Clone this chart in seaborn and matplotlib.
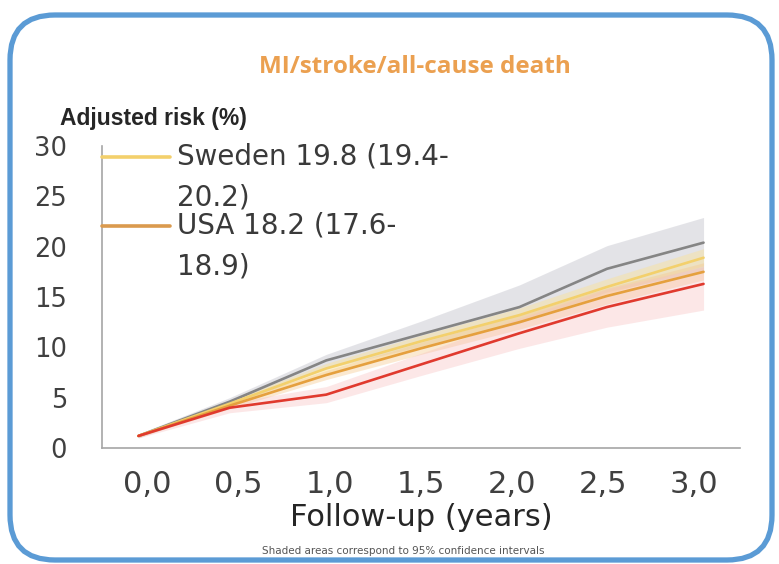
import numpy as np
import pandas as pd
import matplotlib
matplotlib.use("Agg")
import matplotlib.pyplot as plt
from matplotlib.patches import FancyBboxPatch
from matplotlib.lines import Line2D
from matplotlib.legend_handler import HandlerLine2D
import seaborn as sns

# ---------------- data ----------------
years = [-0.05, 0.45, 0.98, 1.5, 2.04, 2.52, 3.05]

gray_risk   = [1.2, 4.6, 8.7, 11.3, 14.0, 17.8, 20.4]
sweden_risk = [1.2, 4.4, 7.9, 10.6, 13.2, 16.0, 18.9]
usa_risk    = [1.2, 4.2, 7.25, 9.9, 12.5, 15.1, 17.5]
red_risk    = [1.2, 4.0, 5.3, 8.3, 11.4, 14.0, 16.3]

gray_lo   = [1.0, 4.2, 7.9, 10.1, 12.4, 15.5, 17.6]
gray_hi   = [1.4, 5.0, 9.3, 12.6, 16.2, 20.1, 22.9]
sweden_lo = [1.1, 4.1, 7.4, 10.0, 12.5, 15.3, 18.1]
sweden_hi = [1.3, 4.7, 8.4, 11.2, 13.9, 16.8, 19.8]
usa_lo    = [1.1, 3.9, 6.8, 9.3, 11.8, 14.3, 16.7]
usa_hi    = [1.3, 4.5, 7.7, 10.5, 13.2, 15.9, 18.4]
red_lo    = [1.0, 3.5, 4.5, 7.2, 9.9, 12.0, 13.7]
red_hi    = [1.4, 4.5, 6.1, 9.4, 12.9, 15.8, 18.0]

series_names = ["Other A", "Sweden", "USA", "Other B"]
legend_labels = ["Sweden 19.8 (19.4-\n20.2)", "USA 18.2 (17.6-\n18.9)"]

xtick_values = [0.0, 0.5, 1.0, 1.5, 2.0, 2.5, 3.0]
xtick_labels = ["0,0", "0,5", "1,0", "1,5", "2,0", "2,5", "3,0"]
ytick_values = [0, 5, 10, 15, 20, 25, 30]

# ---------------- styling ----------------
line_colors = {"Other A": "#858585", "Sweden": "#F3D06C", "USA": "#E5A03E", "Other B": "#E03A2E"}
band_colors = {"Other A": ("#C9C9D1", 0.5), "Sweden": ("#F8E2A0", 0.5),
               "USA": ("#F6C88E", 0.4), "Other B": ("#F7BCBC", 0.35)}

sns.set_style("white")
plt.rcParams["font.family"] = ["DejaVu Sans"]

fig = plt.figure(figsize=(7.79, 5.64), dpi=100)
fig.patch.set_facecolor("white")

# rounded blue frame
frame = FancyBboxPatch((0.10, 0.04), 7.62, 5.45,
                       boxstyle="round,pad=0,rounding_size=0.45",
                       transform=fig.dpi_scale_trans, fill=False,
                       edgecolor="#5B9BD5", linewidth=3.8, zorder=0)
fig.patches.append(frame)

ax = fig.add_axes([102 / 779, 1 - 448 / 564, (740 - 102) / 779, (448 - 146) / 564])
ax.set_facecolor("none")

bands = {"Other A": (gray_lo, gray_hi), "Sweden": (sweden_lo, sweden_hi),
         "USA": (usa_lo, usa_hi), "Other B": (red_lo, red_hi)}
for name in series_names:
    lo, hi = bands[name]
    c, a = band_colors[name]
    ax.fill_between(years, lo, hi, color=c, alpha=a, linewidth=0, zorder=1)

df = pd.DataFrame({
    "year": years * 4,
    "risk": gray_risk + sweden_risk + usa_risk + red_risk,
    "series": sum([[n] * len(years) for n in series_names], []),
})
sns.lineplot(data=df, x="year", y="risk", hue="series", hue_order=series_names,
             palette=line_colors, linewidth=1.9, legend=False, ax=ax, zorder=3)

ax.set_xlim(-0.25, 3.25)
ax.set_ylim(0, 30)
ax.set_xticks(xtick_values)
ax.set_xticklabels(xtick_labels)
ax.set_xticks(np.arange(-0.25, 3.26, 0.5), minor=True)
ax.set_yticks(ytick_values)

for s in ["top", "right"]:
    ax.spines[s].set_visible(False)
for s in ["left", "bottom"]:
    ax.spines[s].set_color("#A6A6A6")
    ax.spines[s].set_linewidth(1.2)

ax.tick_params(axis="x", which="major", length=0, pad=16, labelsize=22, labelcolor="#404040")
ax.tick_params(axis="x", which="minor", length=4, width=1, color="#A6A6A6", direction="out")
ax.tick_params(axis="y", which="major", length=7.2, width=1, color="#A6A6A6", direction="out",
               pad=18, labelsize=18.5, labelcolor="#404040")
ax.set_xlabel("Follow-up (years)", fontsize=22, color="#262626", labelpad=3)
ax.set_ylabel("")


class TopLineHandler(HandlerLine2D):
    def __init__(self, offset, **kw):
        super().__init__(**kw)
        self.offset = offset

    def create_artists(self, legend, orig_handle, xdescent, ydescent, width, height,
                       fontsize, trans):
        arts = super().create_artists(legend, orig_handle, xdescent, ydescent, width,
                                      height, fontsize, trans)
        for a in arts:
            a.set_ydata(np.asarray(a.get_ydata()) + self.offset)
        return arts


handles = [Line2D([], [], color="#F3D06C", linewidth=2.6),
           Line2D([], [], color="#DA9A4E", linewidth=2.6)]
leg_fs = 20
line_sp = 1.58
leg = ax.legend(handles, legend_labels, loc="upper left", bbox_to_anchor=(0.0, 1.01),
                frameon=False, fontsize=leg_fs, handlelength=2.45, handletextpad=0.25,
                borderpad=0, borderaxespad=0, labelspacing=0.0,
                handler_map={h: TopLineHandler(offset=15.5) for h in handles})
for t in leg.get_texts():
    t.set_linespacing(line_sp)
    t.set_color("#3A3A3A")

fig.text(415 / 779, 1 - 67 / 564, "MI/stroke/all-cause death", ha="center", va="center",
         fontsize=17.5, fontweight="bold", color="#EBA050", family=["Open Sans", "DejaVu Sans"])
fig.text(60 / 779, 1 - 118 / 564, "Adjusted risk (%)", ha="left", va="center",
         fontsize=16.5, fontweight="bold", color="#262626", family=["Liberation Sans", "DejaVu Sans"])
fig.text(403 / 779, 1 - 551 / 564, "Shaded areas correspond to 95% confidence intervals",
         ha="center", va="center", fontsize=7.5, color="#555555")

fig.savefig("out.png", dpi=100, facecolor="white")
